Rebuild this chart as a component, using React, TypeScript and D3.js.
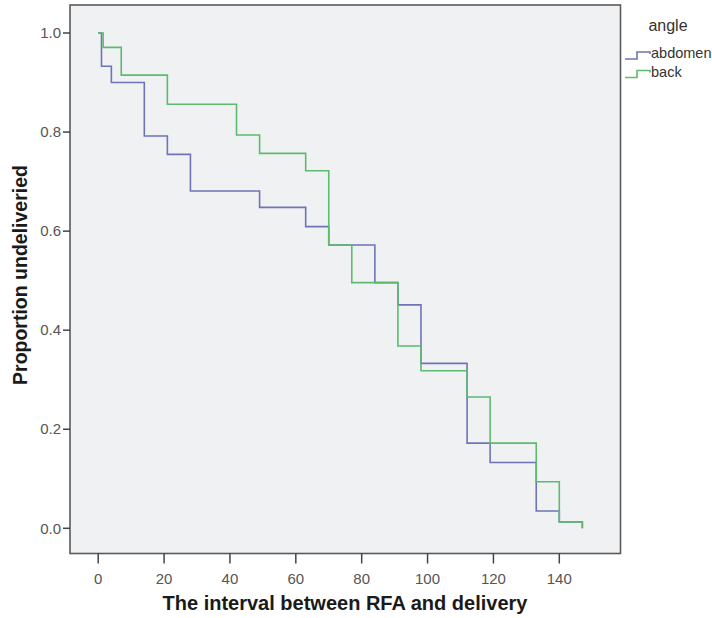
import React from "react";
import * as d3 from "d3";

const xTicks = [0, 20, 40, 60, 80, 100, 120, 140];
const yTicks = [0.0, 0.2, 0.4, 0.6, 0.8, 1.0];

const seriesNames = ["abdomen", "back"];
const seriesColors = ["#6d74b8", "#5cbb6e"];

const abdomenTimes = [0, 1, 4, 14, 21, 28, 49, 63, 70, 84, 91, 98, 112, 119, 133, 140, 147];
const abdomenValues = [1, 0.933, 0.9, 0.792, 0.755, 0.681, 0.648, 0.609, 0.572, 0.496, 0.451, 0.333, 0.172, 0.133, 0.035, 0.013, 0.0];

const backTimes = [0, 1.5, 7, 21, 42, 49, 63, 70, 77, 91, 98, 112, 119, 133, 140, 147];
const backValues = [1, 0.971, 0.915, 0.856, 0.794, 0.757, 0.722, 0.572, 0.496, 0.368, 0.318, 0.265, 0.172, 0.094, 0.013, 0.0];

const FONT = "'Liberation Sans', Arial, sans-serif";

export default function App() {
  const W = 712, H = 618;
  const frame = { x: 70, y: 5, w: 550.5, h: 548.5 };
  const x = d3.scaleLinear().domain([0, 140]).range([98.2, 559.3]);
  const y = d3.scaleLinear().domain([0, 1]).range([528.3, 33]);

  const line = d3
    .line<[number, number]>()
    .x((d) => x(d[0]))
    .y((d) => y(d[1]))
    .curve(d3.curveStepAfter);

  const series = [
    { name: seriesNames[0], color: seriesColors[0], pts: abdomenTimes.map((t, i) => [t, abdomenValues[i]] as [number, number]) },
    { name: seriesNames[1], color: seriesColors[1], pts: backTimes.map((t, i) => [t, backValues[i]] as [number, number]) },
  ];

  const bottom = frame.y + frame.h;
  const tickColor = "#444";

  return (
    <svg width={W} height={H} style={{ position: "absolute", left: 0, top: 0, background: "#fff" }}>
      <rect x={frame.x} y={frame.y} width={frame.w} height={frame.h} fill="#f0f1f2" stroke="#5a5a5a" strokeWidth={1.6} />

      {series.map((s) => (
        <path key={s.name} d={line(s.pts) || ""} fill="none" stroke={s.color} strokeWidth={1.6} />
      ))}

      {/* Y axis ticks */}
      {yTicks.map((v) => (
        <g key={"y" + v}>
          <line x1={frame.x - 7} x2={frame.x} y1={y(v)} y2={y(v)} stroke={tickColor} strokeWidth={1.5} />
          <text x={frame.x - 9} y={y(v)} dy="0.35em" textAnchor="end" fontFamily={FONT} fontSize={15} fill="#555">
            {v.toFixed(1)}
          </text>
        </g>
      ))}

      {/* X axis ticks */}
      {xTicks.map((v) => (
        <g key={"x" + v}>
          <line x1={x(v)} x2={x(v)} y1={bottom} y2={bottom + 10} stroke={tickColor} strokeWidth={1.5} />
          <text x={x(v)} y={584} textAnchor="middle" fontFamily={FONT} fontSize={15} fill="#555">
            {v}
          </text>
        </g>
      ))}

      <text x={345} y={610} textAnchor="middle" fontFamily={FONT} fontSize={20} fontWeight="bold" fill="#1a1a1a">
        The interval between RFA and delivery
      </text>
      <text
        transform={`translate(27, 275) rotate(-90)`}
        textAnchor="middle"
        fontFamily={FONT}
        fontSize={19.5}
        fontWeight="bold"
        fill="#1a1a1a"
      >
        Proportion undeliveried
      </text>

      {/* Legend */}
      <text x={668} y={31} textAnchor="middle" fontFamily={FONT} fontSize={16} fill="#333">
        angle
      </text>
      {series.map((s, i) => {
        const cy = 53 + i * 18.5;
        return (
          <g key={"lg" + s.name}>
            <path
              d={`M625,${cy + 6} H637 V${cy - 1} H650 V${cy + 1}`}
              fill="none"
              stroke={s.color}
              strokeWidth={1.6}
            />
            <text x={651} y={cy} dy="0.35em" fontFamily={FONT} fontSize={14.5} fill="#333">
              {s.name}
            </text>
          </g>
        );
      })}
    </svg>
  );
}
